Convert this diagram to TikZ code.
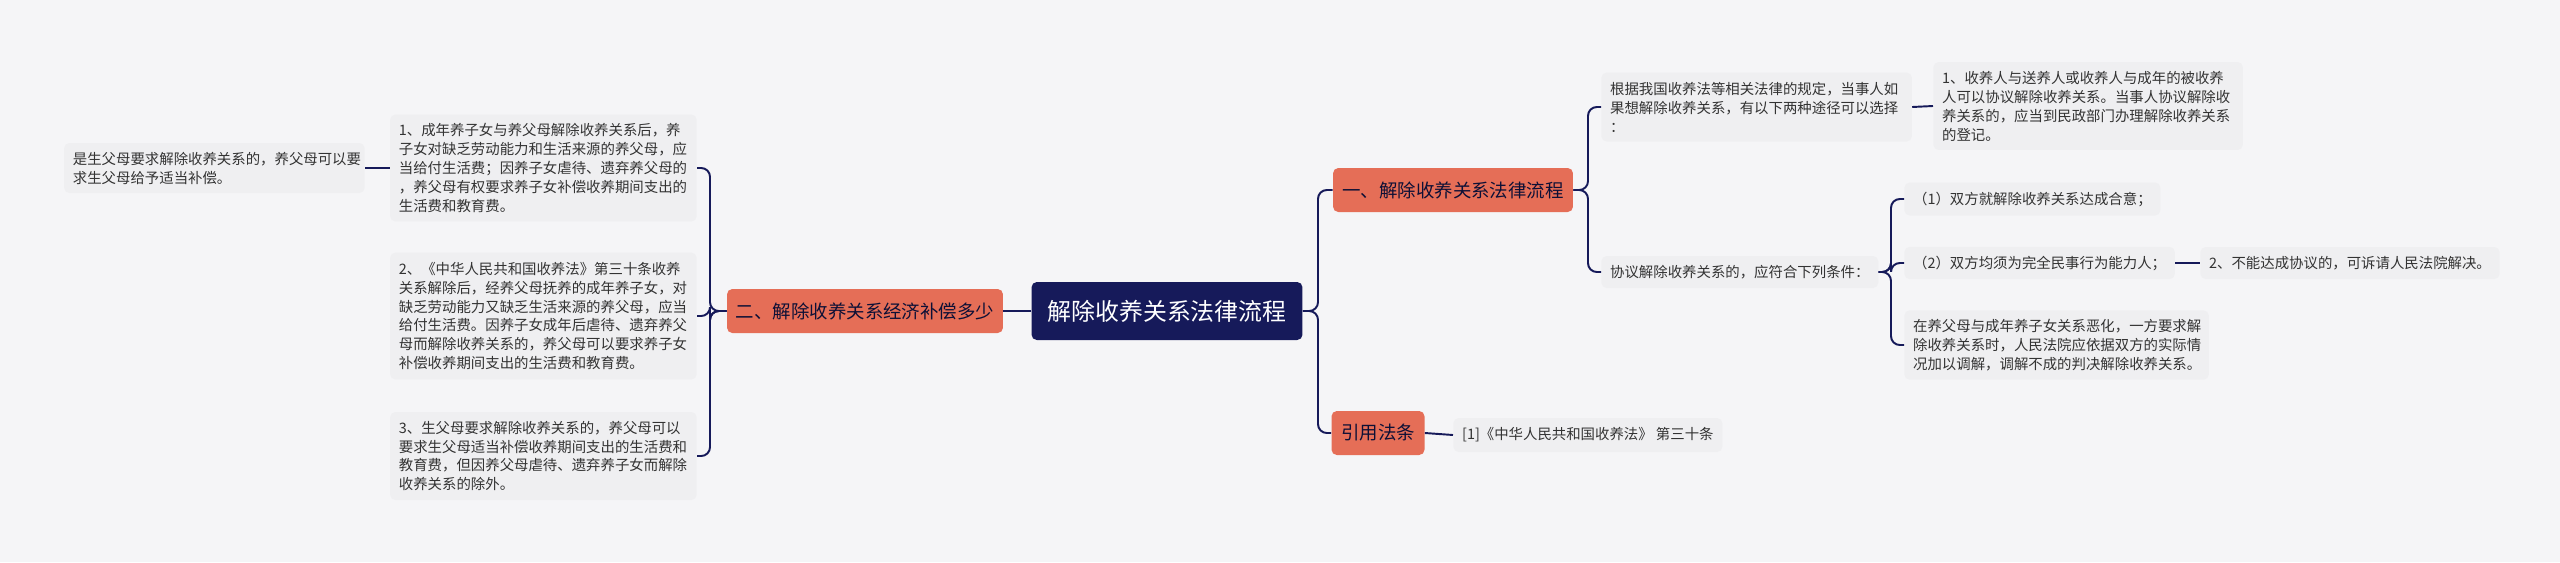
\documentclass[tikz,border=0pt]{standalone}
\usepackage{fontspec}
\setmainfont{Noto Sans CJK SC}
\definecolor{navy}{HTML}{161A5A}
\definecolor{salmon}{HTML}{E56E57}
\definecolor{leafgray}{HTML}{EFEFF1}
\definecolor{bggray}{HTML}{F5F5F7}
\definecolor{inkgray}{HTML}{333333}
\tikzset{
  root/.style={fill=navy, text=white, rounded corners=3pt, font=\fontsize{13.6}{16}\selectfont, minimum width=5.42cm, minimum height=1.16cm, inner sep=2pt},
  topic/.style={fill=salmon, text=navy!60!black, rounded corners=3pt, font=\fontsize{10.5}{13}\selectfont, minimum height=0.88cm, inner sep=4pt},
  leaf/.style={fill=leafgray, text=inkgray, rounded corners=3pt, font=\fontsize{8.2}{10.8}\selectfont, align=left, inner xsep=5pt, inner ysep=5pt},
  link/.style={draw=navy, line width=1.1pt, rounded corners=5pt}
}
\begin{document}
\begin{tikzpicture}[x=0.02cm, y=-0.02cm]
\fill[bggray] (0,0) rectangle (2560,562);
\useasboundingbox (0,0) rectangle (2560,562);
% centre and main topics
\node[root] (C) at (1167,311) {解除收养关系法律流程};
\node[topic, minimum width=5.52cm] (B) at (865,311) {二、解除收养关系经济补偿多少};
\node[topic, minimum width=4.8cm] (A) at (1453,190) {一、解除收养关系法律流程};
\node[topic, minimum width=1.86cm] (Y) at (1378,433) {引用法条};
% left leaves
\node[leaf, anchor=east, text width=5.78cm, minimum height=2.14cm] (L1) at (697,168) {1、成年养子女与养父母解除收养关系后，养\\子女对缺乏劳动能力和生活来源的养父母，应\\当给付生活费；因养子女虐待、遗弃养父母的\\，养父母有权要求养子女补偿收养期间支出的\\生活费和教育费。};
\node[leaf, anchor=east, text width=5.78cm, minimum height=2.54cm] (L2) at (697,316) {2、《中华人民共和国收养法》第三十条收养\\关系解除后，经养父母抚养的成年养子女，对\\缺乏劳动能力又缺乏生活来源的养父母，应当\\给付生活费。因养子女成年后虐待、遗弃养父\\母而解除收养关系的，养父母可以要求养子女\\补偿收养期间支出的生活费和教育费。};
\node[leaf, anchor=east, text width=5.78cm, minimum height=1.76cm] (L3) at (697,456) {3、生父母要求解除收养关系的，养父母可以\\要求生父母适当补偿收养期间支出的生活费和\\教育费，但因养父母虐待、遗弃养子女而解除\\收养关系的除外。};
\node[leaf, anchor=east, text width=5.66cm, minimum height=1cm] (L0) at (365,168) {是生父母要求解除收养关系的，养父母可以要\\求生父母给予适当补偿。};
% right leaves
\node[leaf, anchor=west, text width=5.86cm, minimum height=1.38cm] (R1) at (1601,107) {根据我国收养法等相关法律的规定，当事人如\\果想解除收养关系，有以下两种途径可以选择\\：};
\node[leaf, anchor=west, text width=5.84cm, minimum height=1.76cm] (R1a) at (1933,106) {1、收养人与送养人或收养人与成年的被收养\\人可以协议解除收养关系。当事人协议解除收\\养关系的，应当到民政部门办理解除收养关系\\的登记。};
\node[leaf, anchor=west, minimum height=0.64cm] (R2) at (1601,272) {协议解除收养关系的，应符合下列条件：};
\node[leaf, anchor=west, minimum height=0.66cm] (K1) at (1904,199) {（1）双方就解除收养关系达成合意；};
\node[leaf, anchor=west, minimum height=0.64cm] (K2) at (1904,263) {（2）双方均须为完全民事行为能力人；};
\node[leaf, anchor=west, minimum height=0.64cm] (K2a) at (2200,263) {2、不能达成协议的，可诉请人民法院解决。};
\node[leaf, anchor=west, text width=5.74cm, minimum height=1.38cm] (K3) at (1904,345) {在养父母与成年养子女关系恶化，一方要求解\\除收养关系时，人民法院应依据双方的实际情\\况加以调解，调解不成的判决解除收养关系。};
\node[leaf, anchor=west, minimum height=0.68cm] (RF) at (1453,435) {[1]《中华人民共和国收养法》 第三十条};
% connectors
\draw[link] (C.west) -- (B.east);
\foreach \n in {L1,L2,L3}
  \draw[link] (B.west) -- (710,311) |- (\n.east);
\draw[link] (L1.west) -- (L0.east);
\foreach \n in {A,Y}
  \draw[link] (C.east) -- (1318,311) |- (\n.west);
\foreach \n in {R1,R2}
  \draw[link] (A.east) -- (1588,190) |- (\n.west);
\draw[link] (R1.east) -- (R1a.west);
\foreach \n in {K1,K2,K3}
  \draw[link] (R2.east) -- (1891,272) |- (\n.west);
\draw[link] (K2.east) -- (K2a.west);
\draw[link] (Y.east) -- (RF.west);
\end{tikzpicture}
\end{document}
